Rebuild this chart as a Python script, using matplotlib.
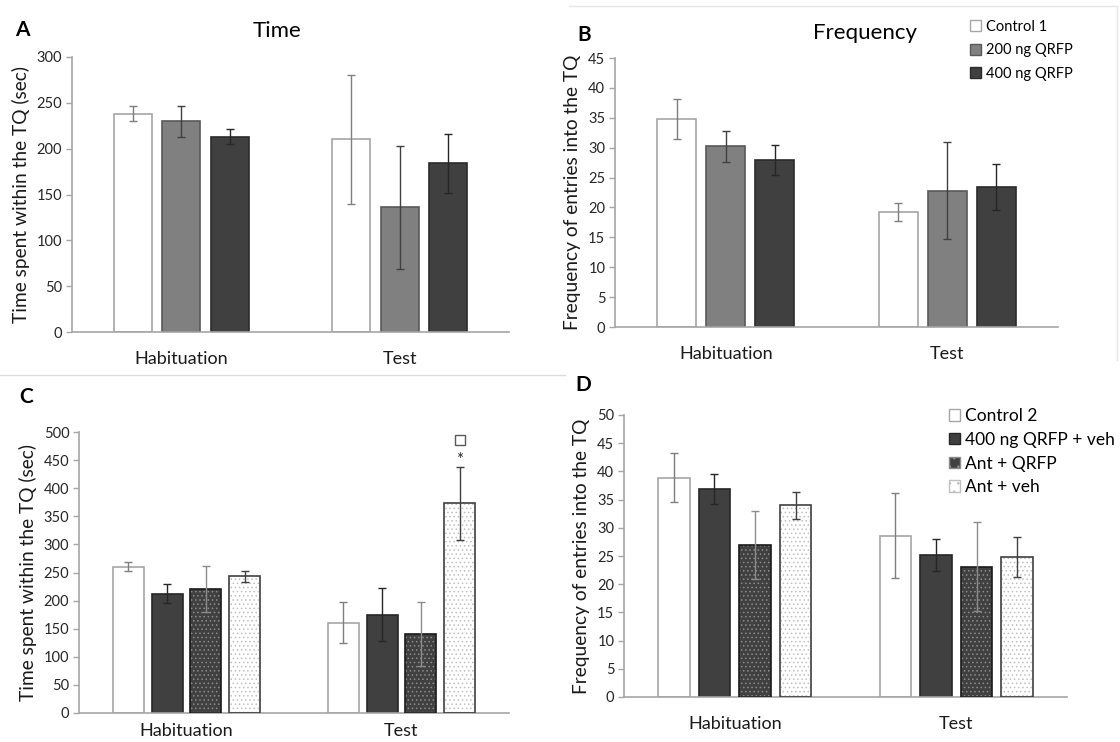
import numpy as np
import matplotlib
matplotlib.use("Agg")
import matplotlib.pyplot as plt
from matplotlib.patches import Patch
from matplotlib.lines import Line2D

plt.rcParams['font.family'] = ['Lato', 'DejaVu Sans']
plt.rcParams['hatch.linewidth'] = 0.6

groups = ['Habituation', 'Test']

# panel A / B (experiment 1)
names1 = ['Control 1', '200 ng QRFP', '400 ng QRFP']
time1 = [[238, 230, 213], [210, 136, 184]]
time1_err = [[8, 17, 8], [70, 67, 32]]
freq1 = [[34.8, 30.2, 28.0], [19.3, 22.8, 23.4]]
freq1_err = [[3.3, 2.6, 2.5], [1.5, 8.1, 3.8]]

# panel C / D (experiment 2)
names2 = ['Control 2', '400 ng QRFP + veh', 'Ant + QRFP', 'Ant + veh']
time2 = [[260, 212, 221, 243], [161, 175, 140, 373]]
time2_err = [[8, 17, 41, 10], [36, 47, 57, 65]]
freq2 = [[38.9, 36.9, 27.0, 34.0], [28.6, 25.2, 23.1, 24.8]]
freq2_err = [[4.4, 2.6, 6.0, 2.4], [7.5, 2.8, 7.9, 3.5]]

W, H = 1120, 742
fig = plt.figure(figsize=(W / 100, H / 100), dpi=100)

# face, edge, hatch, hatch colour, error bar colour
style1 = [('white', '#a6a6a6', None, None, '#7f7f7f'),
          ('#808080', '#595959', None, None, '#404040'),
          ('#404040', '#2b2b2b', None, None, '#262626')]
style2 = [('white', '#a6a6a6', None, None, '#7f7f7f'),
          ('#404040', '#262626', None, None, '#262626'),
          ('#404040', '#1a1a1a', '....', '#8c8c8c', '#8c8c8c'),
          ('white', '#404040', '....', '#bfbfbf', '#404040')]


def add_ax(l, t, r, b):
    return fig.add_axes([l / W, 1 - b / H, (r - l) / W, (b - t) / H])


def draw(ax, vals, errs, styles, width, step, ymax, ystep, ylabel, xpad=14):
    vals = np.array(vals)
    errs = np.array(errs)
    n = vals.shape[1]
    x = np.arange(len(groups))
    for i in range(n):
        fc, ec, hatch, hc, erc = styles[i]
        pos = x + (i - (n - 1) / 2) * step
        if hatch:
            ax.bar(pos, vals[:, i], width, color=fc, edgecolor=hc, hatch=hatch, linewidth=0, zorder=2)
            ax.bar(pos, vals[:, i], width, fill=False, edgecolor=ec, linewidth=1.2, zorder=3)
        else:
            ax.bar(pos, vals[:, i], width, color=fc, edgecolor=ec, linewidth=1.2, zorder=2)
        ax.errorbar(pos, vals[:, i], yerr=errs[:, i], fmt='none', ecolor=erc,
                    elinewidth=1, capsize=3, capthick=1, zorder=4)
    ax.set_xlim(-0.5, 1.5)
    ax.set_ylim(0, ymax)
    ax.set_yticks(np.arange(0, ymax + 0.01, ystep))
    ax.set_xticks(x)
    ax.set_xticklabels(groups, fontsize=13)
    ax.tick_params(axis='x', length=0, pad=xpad, colors='#1a1a1a')
    ax.tick_params(axis='y', length=4, width=1, color='#a6a6a6', labelsize=10.5, labelcolor='#262626', pad=3)
    for s in ['top', 'right']:
        ax.spines[s].set_visible(False)
    for s in ['left', 'bottom']:
        ax.spines[s].set_color('#a6a6a6')
        ax.spines[s].set_linewidth(1.2)
    ax.set_ylabel(ylabel, fontsize=13.8, color='#1a1a1a', labelpad=5)


axA = add_ax(72, 57, 509, 332)
draw(axA, time1, time1_err, style1, 0.174, 0.222, 300, 50, 'Time spent within the TQ (sec)')
axB = add_ax(615, 58, 1058, 327)
draw(axB, freq1, freq1_err, style1, 0.176, 0.221, 45, 5, 'Frequency of entries into the TQ')
axC = add_ax(79, 432, 509, 713)
draw(axC, time2, time2_err, style2, 0.144, 0.181, 500, 50, 'Time spent within the TQ (sec)', xpad=7)
axD = add_ax(624, 415, 1067, 697)
draw(axD, freq2, freq2_err, style2, 0.144, 0.183, 50, 5, 'Frequency of entries into the TQ')

# significance marks over Ant + veh, Test
sx = 1 + 1.5 * 0.181
axC.text(sx, 450, '*', ha='center', va='center', fontsize=12, color='#262626')
axC.plot([sx], [486], marker='s', markersize=7, markerfacecolor='white',
         markeredgecolor='#595959', markeredgewidth=1, linestyle='none')

fig.text(277 / W, 1 - 31 / H, 'Time', fontsize=16, ha='center', va='center')
fig.text(865 / W, 1 - 33 / H, 'Frequency', fontsize=16, ha='center', va='center')
for lab, px, py in [('A', 15, 30), ('B', 577, 35), ('C', 19, 397), ('D', 575, 385)]:
    fig.text(px / W, 1 - py / H, lab, fontsize=15, fontweight='bold', ha='left', va='center')

h1 = [Patch(facecolor=s[0], edgecolor=s[1], linewidth=1) for s in style1]
fig.legend(h1, names1, loc='upper left', bbox_to_anchor=(964 / W, 1 - 14 / H), frameon=False,
           fontsize=10.5, handlelength=0.75, handleheight=0.75, handletextpad=0.35, labelspacing=0.65,
           borderaxespad=0)
h2 = []
for s in style2:
    if s[2]:
        h2.append(Patch(facecolor=s[0], edgecolor=s[3], hatch='..', linewidth=1))
    else:
        h2.append(Patch(facecolor=s[0], edgecolor=s[1], linewidth=1))
fig.legend(h2, names2, loc='upper left', bbox_to_anchor=(942 / W, 1 - 401 / H), frameon=False,
           fontsize=12.5, handlelength=0.65, handleheight=0.65, handletextpad=0.3, labelspacing=0.45,
           borderaxespad=0)

# faint panel borders
fig.add_artist(Line2D([569 / W, 1116 / W], [1 - 6 / H, 1 - 6 / H], color='#e6e6e6', lw=1))
fig.add_artist(Line2D([1117 / W, 1117 / W], [1 - 6 / H, 1 - 360 / H], color='#e6e6e6', lw=1))
fig.add_artist(Line2D([0, 565 / W], [1 - 375 / H, 1 - 375 / H], color='#dcdcdc', lw=1))

fig.savefig('out.png', dpi=100)
